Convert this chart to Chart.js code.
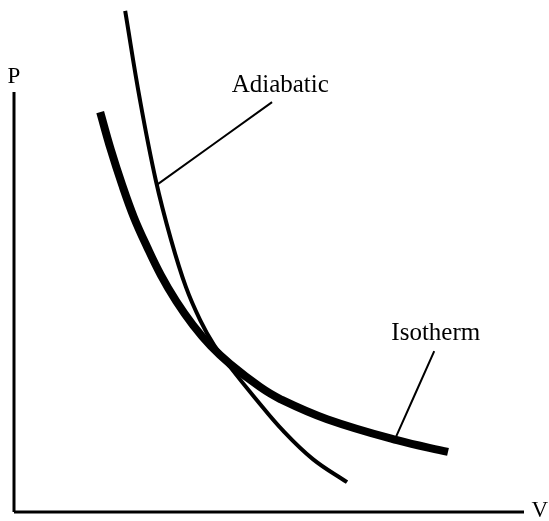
<!DOCTYPE html>
<html>
<head>
<meta charset="utf-8">
<script src="https://cdn.jsdelivr.net/npm/chart.js@4"></script>
<style>
  html, body { margin: 0; padding: 0; background: #fff; }
  #chart { display: block; }
</style>
</head>
<body>
<canvas id="chart" width="549" height="521"></canvas>
<script>
// curve values (V, P in arbitrary units, axes run 0..10)
const adiabaticV = [2.18, 2.47, 2.78, 3.08, 3.37, 3.65, 3.92, 4.24, 4.73, 5.28, 5.86, 6.53];
const adiabaticP = [11.93, 9.81, 7.90, 6.48, 5.36, 4.57, 3.98, 3.45, 2.71, 1.93, 1.26, 0.71];

const isothermV = [1.69, 1.90, 2.12, 2.35, 2.61, 2.88, 3.18, 3.51, 3.86, 4.24, 4.82, 5.22, 6.14, 7.51, 8.51];
const isothermP = [9.52, 8.62, 7.79, 7.02, 6.31, 5.64, 5.02, 4.45, 3.95, 3.52, 2.98, 2.69, 2.21, 1.71, 1.43];

// leader lines from label to curve
const adiabaticLeaderV = [2.80, 5.06];
const adiabaticLeaderP = [7.79, 9.76];
const isothermLeaderV = [7.49, 8.24];
const isothermLeaderP = [1.79, 3.83];

// axis extents
const axisLen = 10;

// text labels
const labelText = ['Adiabatic', 'Isotherm', 'P', 'V'];
const labelV = [5.22, 8.27, 0, 10.31];
const labelP = [10.0, 4.10, 10.21, -0.12];
const labelSize = [25, 25, 23, 23];

const toPoints = (xs, ys) => xs.map((x, i) => ({ x: x, y: ys[i] }));

function lineSet(points, width) {
    return {
        data: points,
        borderColor: '#000',
        borderWidth: width,
        pointRadius: 0,
        fill: false,
        borderCapStyle: 'butt',
        tension: 0.4,
        clip: false,
    };
}

// draw the text labels at data positions
const labelPlugin = {
    id: 'labels',
    afterDraw(chart) {
        const ctx = chart.ctx;
        const xs = chart.scales.x;
        const ys = chart.scales.y;
        ctx.save();
        ctx.fillStyle = '#000';
        ctx.textAlign = 'center';
        ctx.textBaseline = 'alphabetic';
        labelText.forEach((t, i) => {
            ctx.font = labelSize[i] + 'px "Liberation Serif", serif';
            ctx.fillText(t, xs.getPixelForValue(labelV[i]), ys.getPixelForValue(labelP[i]));
        });
        ctx.restore();
    }
};

const ctx = document.getElementById('chart').getContext('2d');
new Chart(ctx, {
    type: 'line',
    data: {
        datasets: [
            lineSet(toPoints([0, 0], [0, axisLen]), 3),
            lineSet(toPoints([0, axisLen], [0, 0]), 3),
            lineSet(toPoints(isothermV, isothermP), 8),
            lineSet(toPoints(adiabaticV, adiabaticP), 4),
            lineSet(toPoints(adiabaticLeaderV, adiabaticLeaderP), 2),
            lineSet(toPoints(isothermLeaderV, isothermLeaderP), 2),
        ],
    },
    options: {
        responsive: false,
        animation: false,
        layout: { padding: { left: 14, right: 0, top: 0, bottom: 9 } },
        plugins: {
            legend: { display: false },
            tooltip: { enabled: false },
        },
        scales: {
            x: { type: 'linear', display: false, min: 0, max: 535 / 51 },
            y: { type: 'linear', display: false, min: 0, max: 512 / 42 },
        },
    },
    plugins: [labelPlugin],
});
</script>
</body>
</html>
